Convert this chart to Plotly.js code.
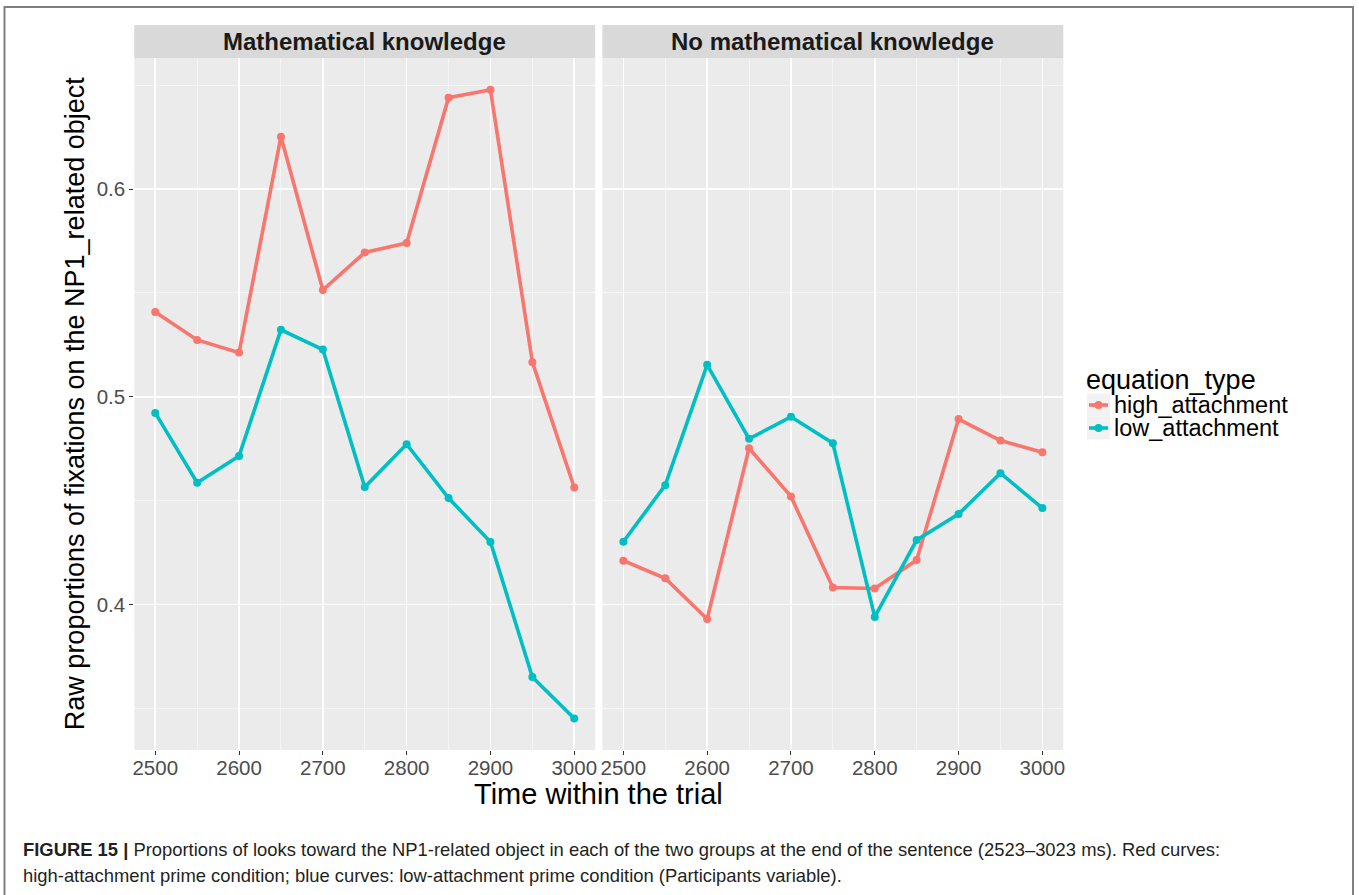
<!DOCTYPE html>
<html>
<head>
<meta charset="utf-8">
<script src="https://cdn.plot.ly/plotly-3.0.1.min.js"></script>
<style>html,body{margin:0;padding:0;background:#fff;}#chart{width:1359px;height:895px;}</style>
</head>
<body>
<div id="chart"></div>
<script>
// ---- data ----
const times = [2500, 2550, 2600, 2650, 2700, 2750, 2800, 2850, 2900, 2950, 3000];
const panels = ["Mathematical knowledge", "No mathematical knowledge"];
const seriesNames = ["high_attachment", "low_attachment"];
const mathHigh = [0.5409, 0.5274, 0.5213, 0.6252, 0.5514, 0.5695, 0.5740, 0.6440, 0.6478, 0.5167, 0.4564];
const mathLow  = [0.4923, 0.4587, 0.4715, 0.5323, 0.5228, 0.4566, 0.4772, 0.4513, 0.4302, 0.3652, 0.3452];
const noMathHigh = [0.4212, 0.4127, 0.3931, 0.4753, 0.4521, 0.4083, 0.4078, 0.4215, 0.4893, 0.4790, 0.4734];
const noMathLow  = [0.4303, 0.4575, 0.5154, 0.4798, 0.4904, 0.4777, 0.3941, 0.4311, 0.4436, 0.4633, 0.4465];
const xTickVals = [2500, 2600, 2700, 2800, 2900, 3000];
const yTickVals = [0.4, 0.5, 0.6];
const yTickText = ["0.4", "0.5", "0.6"];
const xTitle = "Time within the trial";
const yTitle = "Raw proportions of fixations on the NP1_related object";
const legendTitle = "equation_type";
const captionLine1 = "<b>FIGURE 15 |</b> Proportions of looks toward the NP1-related object in each of the two groups at the end of the sentence (2523–3023 ms). Red curves:";
const captionLine2 = "high-attachment prime condition; blue curves: low-attachment prime condition (Participants variable).";
const colors = ["#F8766D", "#00BFC4"];

// ---- geometry helpers (pixel -> paper) ----
const W = 1359, H = 895;
const px = v => v / W;
const py = v => 1 - v / H;

// ggplot-like 5% expansion
const allY = mathHigh.concat(mathLow, noMathHigh, noMathLow);
const yMin = Math.min(...allY), yMax = Math.max(...allY);
const yPad = (yMax - yMin) * 0.05;
const xMin = Math.min(...times), xMax = Math.max(...times);
const xPad = (xMax - xMin) * 0.05;

const data = [
  [mathHigh, 'x', 'y', 0],
  [mathLow, 'x', 'y', 1],
  [noMathHigh, 'x2', 'y2', 0],
  [noMathLow, 'x2', 'y2', 1]
].map(([vals, xa, ya, si]) => ({
  type: 'scatter', mode: 'lines+markers',
  x: times, y: vals, xaxis: xa, yaxis: ya,
  name: seriesNames[si], showlegend: false,
  line: {color: colors[si], width: 3.6},
  marker: {color: colors[si], size: 8},
  hoverinfo: 'x+y'
}));

const font = 'Liberation Sans, Arial, sans-serif';
const xaxisBase = {
  range: [xMin - xPad, xMax + xPad],
  tickvals: xTickVals, ticktext: xTickVals.map(String),
  ticks: 'outside', ticklen: 4, tickwidth: 1, tickcolor: '#333333',
  ticklabelstandoff: -5,
  tickfont: {family: font, size: 20.5, color: '#4D4D4D'},
  showgrid: true, gridcolor: '#FFFFFF', gridwidth: 1.6,
  minor: {tickvals: [2550, 2650, 2750, 2850, 2950], showgrid: true, gridcolor: '#F7F7F7', gridwidth: 0.8, ticks: ''},
  zeroline: false, showline: false, fixedrange: true
};
const yaxisBase = {
  range: [yMin - yPad, yMax + yPad],
  tickvals: yTickVals, ticktext: yTickText,
  ticks: 'outside', ticklen: 4, tickwidth: 1, tickcolor: '#333333',
  tickfont: {family: font, size: 20.5, color: '#4D4D4D'},
  showgrid: true, gridcolor: '#FFFFFF', gridwidth: 1.6,
  minor: {tickvals: [0.35, 0.45, 0.55, 0.65], showgrid: true, gridcolor: '#F7F7F7', gridwidth: 0.8, ticks: ''},
  zeroline: false, showline: false, fixedrange: true
};

const xd1 = [px(134.3), px(595.2)];
const xd2 = [px(602.4), px(1063.3)];
const yd = [py(750), py(58.3)];

// manual ggplot-style legend (key boxes, line + point keys, labels)
const legendRows = [405, 428];
const legendShapes = [];
const legendAnnots = [{text: legendTitle, xref: 'paper', yref: 'paper', x: px(1085), y: py(380), showarrow: false, xanchor: 'left', yanchor: 'middle', borderpad: 0, font: {family: font, size: 27, color: '#000'}}];
seriesNames.forEach((nm, i) => {
  const cy = legendRows[i];
  legendShapes.push({type: 'rect', xref: 'paper', yref: 'paper', x0: px(1087), x1: px(1110), y0: py(cy + 11.5), y1: py(cy - 11.5), fillcolor: '#F2F2F2', line: {width: 0}});
  legendShapes.push({type: 'line', xref: 'paper', yref: 'paper', x0: px(1089), x1: px(1108), y0: py(cy), y1: py(cy), line: {color: colors[i], width: 3.6}});
  legendShapes.push({type: 'circle', xref: 'paper', yref: 'paper', x0: px(1094.5), x1: px(1102.5), y0: py(cy + 4), y1: py(cy - 4), fillcolor: colors[i], line: {width: 0}});
  legendAnnots.push({text: nm, xref: 'paper', yref: 'paper', x: px(1113), y: py(cy), showarrow: false, xanchor: 'left', yanchor: 'middle', borderpad: 0, font: {family: font, size: 23.5, color: '#000'}});
});

const layout = {
  width: W, height: H,
  margin: {l: 0, r: 0, t: 0, b: 0},
  paper_bgcolor: '#FFFFFF', plot_bgcolor: '#EBEBEB',
  font: {family: font, color: '#1A1A1A'},
  xaxis: Object.assign({}, xaxisBase, {domain: xd1, anchor: 'y'}),
  xaxis2: Object.assign({}, xaxisBase, {domain: xd2, anchor: 'y2'}),
  yaxis: Object.assign({}, yaxisBase, {domain: yd, anchor: 'x'}),
  yaxis2: Object.assign({}, yaxisBase, {domain: yd, anchor: 'x2', matches: 'y', showticklabels: false, ticks: ''}),
  showlegend: false,
  shapes: [
    {type: 'rect', xref: 'paper', yref: 'paper', x0: xd1[0], x1: xd1[1], y0: py(58.3), y1: py(25), fillcolor: '#D9D9D9', line: {width: 0}, layer: 'below'},
    {type: 'rect', xref: 'paper', yref: 'paper', x0: xd2[0], x1: xd2[1], y0: py(58.3), y1: py(25), fillcolor: '#D9D9D9', line: {width: 0}, layer: 'below'},
    {type: 'rect', xref: 'paper', yref: 'paper', x0: px(4.5), x1: px(1353), y0: -0.05, y1: py(7), line: {color: '#808080', width: 2}, fillcolor: 'rgba(0,0,0,0)'}
  ].concat(legendShapes),
  annotations: [
    {text: '<b>' + panels[0] + '</b>', xref: 'paper', yref: 'paper', x: (xd1[0] + xd1[1]) / 2, y: py(42), showarrow: false, xanchor: 'center', yanchor: 'middle', font: {family: font, size: 24, color: '#1A1A1A'}},
    {text: '<b>' + panels[1] + '</b>', xref: 'paper', yref: 'paper', x: (xd2[0] + xd2[1]) / 2, y: py(42), showarrow: false, xanchor: 'center', yanchor: 'middle', font: {family: font, size: 24, color: '#1A1A1A'}},
    {text: xTitle, xref: 'paper', yref: 'paper', x: (xd1[0] + xd2[1]) / 2, y: py(794), showarrow: false, xanchor: 'center', yanchor: 'middle', font: {family: font, size: 29, color: '#000'}},
    {text: yTitle, xref: 'paper', yref: 'paper', x: px(75), y: (yd[0] + yd[1]) / 2, showarrow: false, textangle: -90, xanchor: 'center', yanchor: 'middle', font: {family: font, size: 27, color: '#000'}},
    {text: captionLine1, xref: 'paper', yref: 'paper', x: px(21), y: py(849), showarrow: false, xanchor: 'left', yanchor: 'middle', font: {family: font, size: 18.4, color: '#231F20'}},
    {text: captionLine2, xref: 'paper', yref: 'paper', x: px(21), y: py(875), showarrow: false, xanchor: 'left', yanchor: 'middle', font: {family: font, size: 18.4, color: '#231F20'}}
  ].concat(legendAnnots)
};

Plotly.newPlot('chart', data, layout, {displayModeBar: false, staticPlot: true});
</script>
</body>
</html>
